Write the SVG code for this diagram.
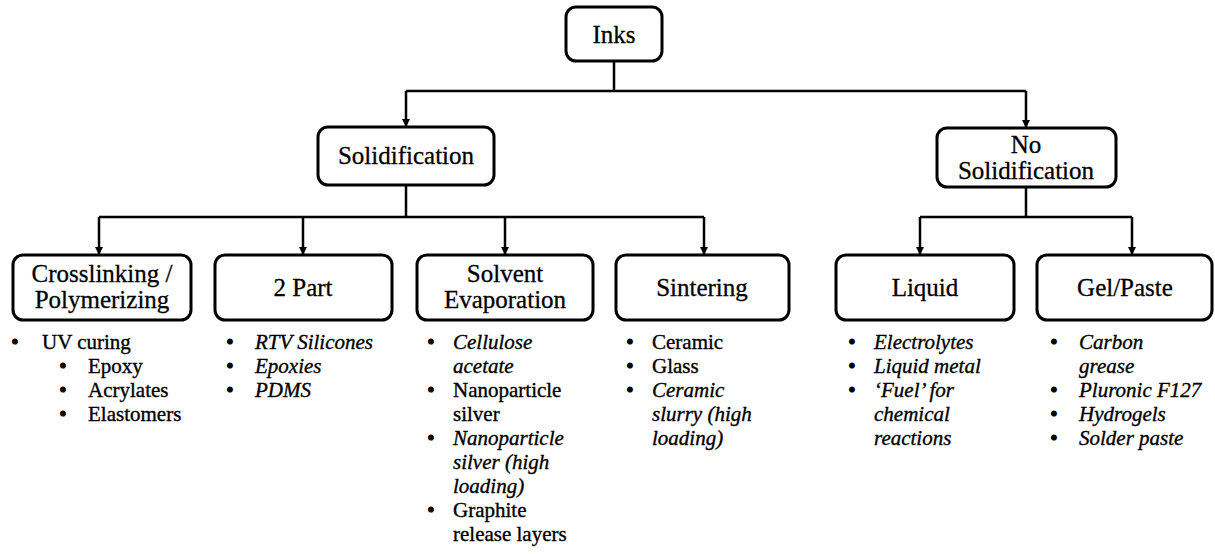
<svg xmlns="http://www.w3.org/2000/svg" width="1215" height="554" viewBox="0 0 1215 554">
<defs>
<marker id="ah" viewBox="0 0 10 10" refX="10" refY="5" markerWidth="3.2" markerHeight="3.2" orient="auto" markerUnits="strokeWidth">
<path d="M0,0 L10,5 L0,10 z" fill="#000"/>
</marker>
<style>
.box{fill:#fff;stroke:#000;stroke-width:3}
.lbl{font-family:"Liberation Serif",serif;font-size:25px;fill:#000;stroke:#000;stroke-width:0.3;text-anchor:middle}
.li{font-family:"Liberation Serif",serif;font-size:21px;fill:#000;stroke:#000;stroke-width:0.35}
.it{font-style:italic}
.bul{font-family:"Liberation Serif",serif;font-size:21px;fill:#000;stroke:#000;stroke-width:1;text-anchor:middle}
.con{fill:none;stroke:#000;stroke-width:2.5}
</style>
</defs>
<rect width="1215" height="554" fill="#fff"/>
<g id="connectors">
<path class="con" d="M614 61 V91 M406 91 H1026 M406 185 V217 M99 217 H704 M1026 187 V217 M920 217 H1132"/>
<path class="con" d="M406 91 V127" marker-end="url(#ah)"/>
<path class="con" d="M1026 91 V128" marker-end="url(#ah)"/>
<path class="con" d="M99 217 V255" marker-end="url(#ah)"/>
<path class="con" d="M303 217 V255" marker-end="url(#ah)"/>
<path class="con" d="M505 217 V255" marker-end="url(#ah)"/>
<path class="con" d="M704 217 V255" marker-end="url(#ah)"/>
<path class="con" d="M920 217 V255" marker-end="url(#ah)"/>
<path class="con" d="M1132 217 V255" marker-end="url(#ah)"/>
</g>
<g id="inks">
<rect class="box" x="566" y="7" width="96" height="54" rx="10"/>
<text class="lbl" x="614" y="43">Inks</text>
</g>
<g id="solidification">
<rect class="box" x="318" y="127" width="176" height="58" rx="10"/>
<text class="lbl" x="406" y="164">Solidification</text>
</g>
<g id="no-solidification">
<rect class="box" x="937" y="128" width="179" height="59" rx="10"/>
<text class="lbl" x="1026" y="153">No</text>
<text class="lbl" x="1026" y="179">Solidification</text>
</g>
<g id="crosslinking">
<rect class="box" x="13" y="255" width="178" height="65" rx="10"/>
<text class="lbl" x="102" y="282">Crosslinking /</text>
<text class="lbl" x="102" y="308">Polymerizing</text>
<text class="bul" x="15" y="349">•</text><text class="li" x="42" y="349">UV curing</text>
<text class="bul" x="63" y="373">•</text><text class="li" x="88" y="373">Epoxy</text>
<text class="bul" x="63" y="397">•</text><text class="li" x="88" y="397">Acrylates</text>
<text class="bul" x="63" y="421">•</text><text class="li" x="88" y="421">Elastomers</text>
</g>
<g id="two-part">
<rect class="box" x="215" y="255" width="177" height="65" rx="10"/>
<text class="lbl" x="303" y="296">2 Part</text>
<text class="bul" x="230" y="349">•</text><text class="li it" x="255" y="349">RTV Silicones</text>
<text class="bul" x="230" y="373">•</text><text class="li it" x="255" y="373">Epoxies</text>
<text class="bul" x="230" y="397">•</text><text class="li it" x="255" y="397">PDMS</text>
</g>
<g id="solvent-evaporation">
<rect class="box" x="417" y="255" width="176" height="65" rx="10"/>
<text class="lbl" x="505" y="282">Solvent</text>
<text class="lbl" x="505" y="308">Evaporation</text>
<text class="bul" x="431" y="349">•</text><text class="li it" x="453" y="349">Cellulose</text>
<text class="li it" x="453" y="373">acetate</text>
<text class="bul" x="431" y="397">•</text><text class="li" x="453" y="397">Nanoparticle</text>
<text class="li" x="453" y="421">silver</text>
<text class="bul" x="431" y="445">•</text><text class="li it" x="453" y="445">Nanoparticle</text>
<text class="li it" x="453" y="469">silver (high</text>
<text class="li it" x="453" y="493">loading)</text>
<text class="bul" x="431" y="517">•</text><text class="li" x="453" y="517">Graphite</text>
<text class="li" x="453" y="541">release layers</text>
</g>
<g id="sintering">
<rect class="box" x="616" y="255" width="173" height="65" rx="10"/>
<text class="lbl" x="702" y="296">Sintering</text>
<text class="bul" x="630" y="349">•</text><text class="li" x="652" y="349">Ceramic</text>
<text class="bul" x="630" y="373">•</text><text class="li" x="652" y="373">Glass</text>
<text class="bul" x="630" y="397">•</text><text class="li it" x="652" y="397">Ceramic</text>
<text class="li it" x="652" y="421">slurry (high</text>
<text class="li it" x="652" y="445">loading)</text>
</g>
<g id="liquid">
<rect class="box" x="836" y="255" width="178" height="65" rx="10"/>
<text class="lbl" x="925" y="296">Liquid</text>
<text class="bul" x="852" y="349">•</text><text class="li it" x="874" y="349">Electrolytes</text>
<text class="bul" x="852" y="373">•</text><text class="li it" x="874" y="373">Liquid metal</text>
<text class="bul" x="852" y="397">•</text><text class="li it" x="874" y="397">‘Fuel’ for</text>
<text class="li it" x="874" y="421">chemical</text>
<text class="li it" x="874" y="445">reactions</text>
</g>
<g id="gel-paste">
<rect class="box" x="1037" y="255" width="175" height="65" rx="10"/>
<text class="lbl" x="1125" y="296">Gel/Paste</text>
<text class="bul" x="1054" y="349">•</text><text class="li it" x="1079" y="349">Carbon</text>
<text class="li it" x="1079" y="373">grease</text>
<text class="bul" x="1054" y="397">•</text><text class="li it" x="1079" y="397">Pluronic F127</text>
<text class="bul" x="1054" y="421">•</text><text class="li it" x="1079" y="421">Hydrogels</text>
<text class="bul" x="1054" y="445">•</text><text class="li it" x="1079" y="445">Solder paste</text>
</g>
</svg>
